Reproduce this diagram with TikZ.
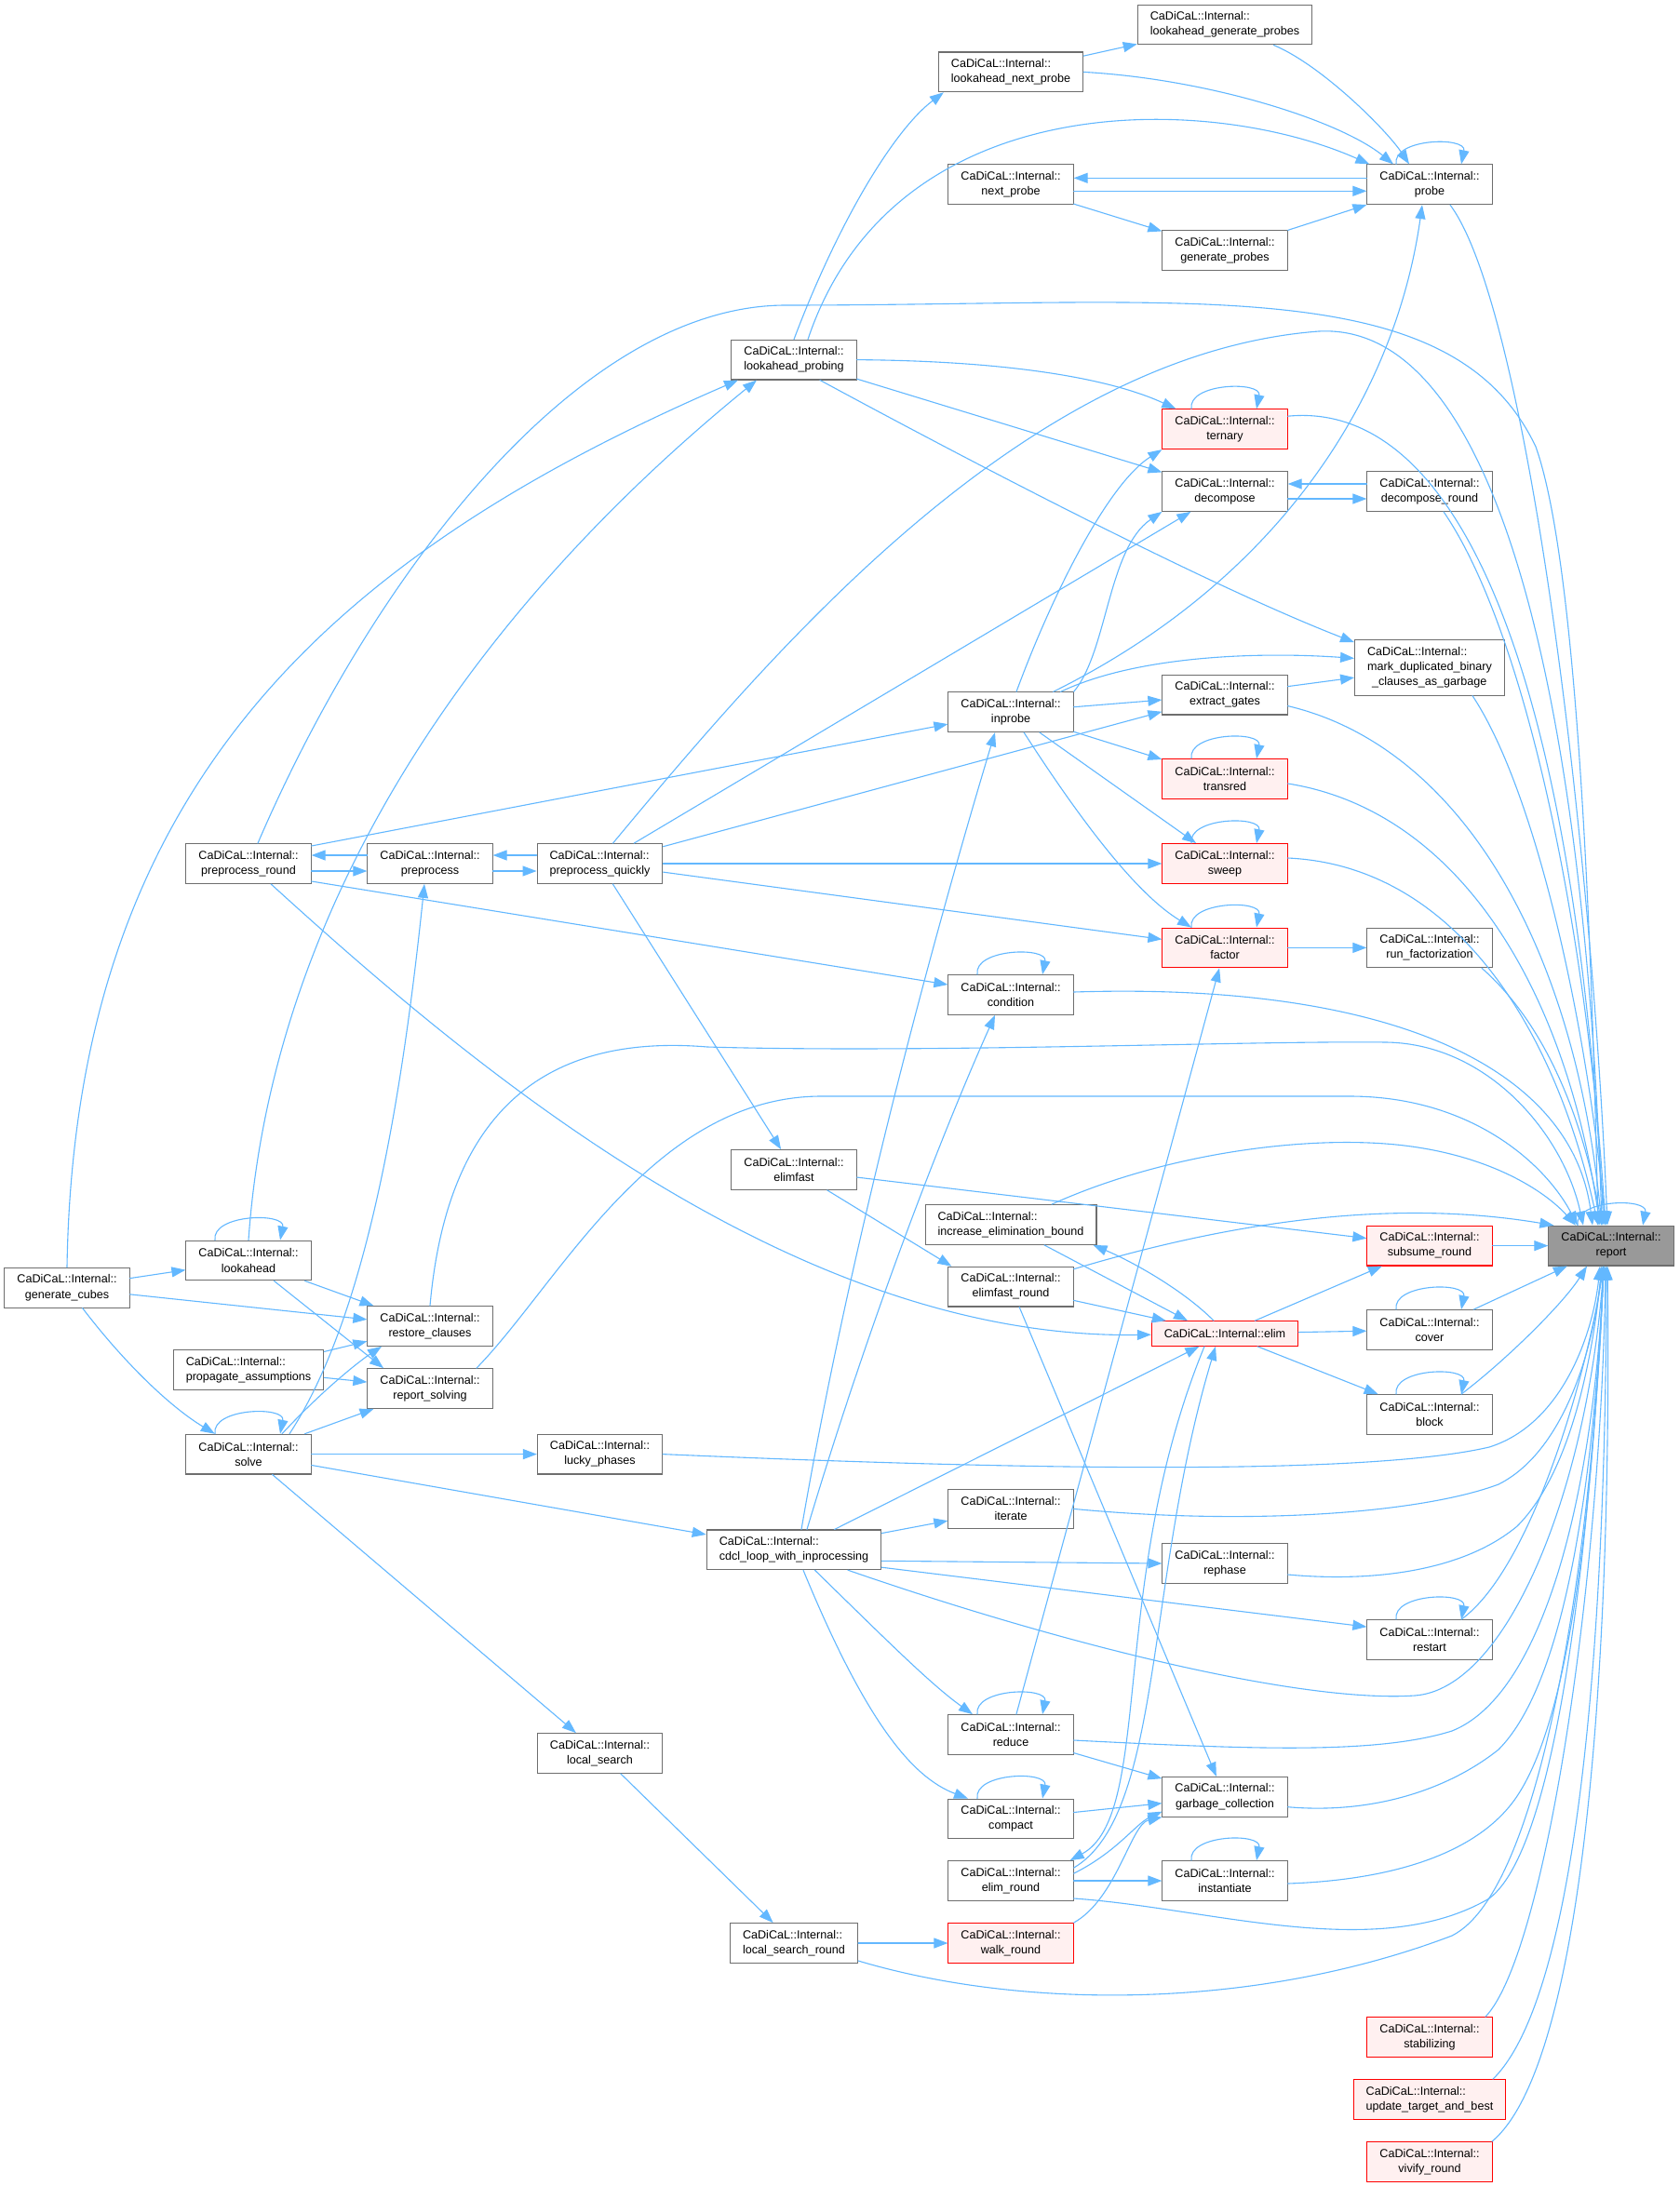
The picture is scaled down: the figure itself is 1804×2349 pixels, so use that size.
\documentclass[tikz,border=0pt]{standalone}
\usepackage{fontspec}
\setmainfont{Liberation Sans}
\usepackage{tikz}
\usetikzlibrary{arrows.meta}
\usepackage{xcolor}
\definecolor{edgeblue}{HTML}{63B8FF}
\definecolor{boxgray}{HTML}{6E6E6E}
\definecolor{hotred}{HTML}{FF0000}
\definecolor{hotfill}{HTML}{FFF0F0}
\definecolor{rootgray}{HTML}{999999}
\newcommand{\selfloop}[1]{\draw[call] ([xshift=-36pt]#1.north) .. controls +(-4,-28) and +(6,-30) .. ([xshift=34pt]#1.north);}

\begin{document}
\begin{tikzpicture}[x=1pt,y=-1pt,line cap=round,
  fn/.style={draw=boxgray,fill=white,line width=1.1pt,inner xsep=13.5pt,inner ysep=3pt,minimum height=42.7pt,align=center,font=\fontsize{12.6}{16.1}\selectfont},
  hot/.style={fn,draw=hotred,fill=hotfill},
  root/.style={fn,fill=rootgray},
  call/.style={-{Triangle[length=15pt,width=11pt]},draw=edgeblue,fill=none,line width=1.1pt}]
\fill[white] (0,0) rectangle (1804,2349);
\useasboundingbox (0,0) rectangle (1804,2349);

\node[fn,align=left] (lgp) at (1316,26.6) {CaDiCaL::Internal::\\lookahead\_generate\_probes};
\node[fn,align=left] (lnp) at (1086,77.4) {CaDiCaL::Internal::\\lookahead\_next\_probe};
\node[fn] (probe) at (1536,198.3) {CaDiCaL::Internal::\\probe};
\node[fn] (nextp) at (1086,198.3) {CaDiCaL::Internal::\\next\_probe};
\node[fn] (genp) at (1316,269.2) {CaDiCaL::Internal::\\generate\_probes};
\node[fn] (lap) at (853,386.6) {CaDiCaL::Internal::\\lookahead\_probing};
\node[hot] (ternary) at (1316,461.2) {CaDiCaL::Internal::\\ternary};
\node[fn] (decomp) at (1316,528) {CaDiCaL::Internal::\\decompose};
\node[fn] (decompr) at (1536,528) {CaDiCaL::Internal::\\decompose\_round};
\node[fn,align=left,minimum height=59.3pt] (markdup) at (1536,717.4) {CaDiCaL::Internal::\\mark\_duplicated\_binary\\\hspace*{5pt}\_clauses\_as\_garbage};
\node[fn] (extract) at (1316,746.6) {CaDiCaL::Internal::\\extract\_gates};
\node[fn] (inprobe) at (1086,765.2) {CaDiCaL::Internal::\\inprobe};
\node[hot] (transred) at (1316,837) {CaDiCaL::Internal::\\transred};
\node[hot] (sweep) at (1316,928) {CaDiCaL::Internal::\\sweep};
\node[fn] (pround) at (267,928) {CaDiCaL::Internal::\\preprocess\_round};
\node[fn] (prep) at (462,928) {CaDiCaL::Internal::\\preprocess};
\node[fn,align=left] (pquick) at (644.5,928) {CaDiCaL::Internal::\\preprocess\_quickly};
\node[hot] (factor) at (1316,1018.4) {CaDiCaL::Internal::\\factor};
\node[fn] (runfact) at (1536,1018.4) {CaDiCaL::Internal::\\run\_factorization};
\node[fn] (cond) at (1086,1069) {CaDiCaL::Internal::\\condition};
\node[fn] (elimfast) at (853,1257) {CaDiCaL::Internal::\\elimfast};
\node[fn,align=left] (incbound) at (1086,1316) {CaDiCaL::Internal::\\increase\_elimination\_bound};
\node[hot] (subsume) at (1536,1338.6) {CaDiCaL::Internal::\\subsume\_round};
\node[root] (report) at (1731,1338.6) {CaDiCaL::Internal::\\report};
\node[fn] (efround) at (1086,1382.6) {CaDiCaL::Internal::\\elimfast\_round};
\node[hot,minimum height=26.6pt] (elim) at (1316,1433) {CaDiCaL::Internal::elim};
\node[fn] (cover) at (1536,1429) {CaDiCaL::Internal::\\cover};
\node[fn] (block) at (1536,1520) {CaDiCaL::Internal::\\block};
\node[fn] (lookahead) at (267,1354.5) {CaDiCaL::Internal::\\lookahead};
\node[fn] (gencubes) at (72,1383.7) {CaDiCaL::Internal::\\generate\_cubes};
\node[fn] (restore) at (462,1425) {CaDiCaL::Internal::\\restore\_clauses};
\node[fn,align=left] (propassume) at (267,1472) {CaDiCaL::Internal::\\propagate\_assumptions};
\node[fn] (repsolving) at (462,1492) {CaDiCaL::Internal::\\report\_solving};
\node[fn] (solve) at (267,1562.6) {CaDiCaL::Internal::\\solve};
\node[fn] (lucky) at (644.5,1562.6) {CaDiCaL::Internal::\\lucky\_phases};
\node[fn] (iterate) at (1086,1621.4) {CaDiCaL::Internal::\\iterate};
\node[fn,align=left] (cdcl) at (853,1665.3) {CaDiCaL::Internal::\\cdcl\_loop\_with\_inprocessing};
\node[fn] (rephase) at (1316,1680) {CaDiCaL::Internal::\\rephase};
\node[fn] (restart) at (1536,1762) {CaDiCaL::Internal::\\restart};
\node[fn] (reduce) at (1086,1864) {CaDiCaL::Internal::\\reduce};
\node[fn] (lsearch) at (644.5,1884) {CaDiCaL::Internal::\\local\_search};
\node[fn] (gc) at (1316,1930.7) {CaDiCaL::Internal::\\garbage\_collection};
\node[fn] (compact) at (1086,1954.5) {CaDiCaL::Internal::\\compact};
\node[fn] (elimround) at (1086,2021) {CaDiCaL::Internal::\\elim\_round};
\node[fn] (inst) at (1316,2021) {CaDiCaL::Internal::\\instantiate};
\node[fn,align=left] (lsround) at (853,2088) {CaDiCaL::Internal::\\local\_search\_round};
\node[hot] (walk) at (1086,2088) {CaDiCaL::Internal::\\walk\_round};
\node[hot] (stab) at (1536,2189) {CaDiCaL::Internal::\\stabilizing};
\node[hot,align=left] (update) at (1536,2256) {CaDiCaL::Internal::\\update\_target\_and\_best};
\node[hot] (vivify) at (1536,2323) {CaDiCaL::Internal::\\vivify\_round};

\draw[call] (lnp) -- (lgp);
\draw[call] (lap.north) .. controls (900,240) and (960,140) .. ([xshift=6pt]lnp.south west);
\draw[call] ([xshift=15pt]lap.north) .. controls (960,90) and (1300,100) .. ([xshift=3pt]probe.north west);
\draw[call] (lnp.east) .. controls (1300,85) and (1440,130) .. ([xshift=-39pt]probe.north);
\draw[call] (lgp) .. controls (1420,70) and (1490,140) .. ([xshift=-22pt]probe.north);
\draw[call] ([yshift=7pt]probe.west) -- ([yshift=7pt]nextp.east);
\draw[call] ([yshift=-7pt]nextp.east) -- ([yshift=-7pt]probe.west);
\draw[call] (nextp) -- (genp);
\draw[call] (genp) -- (probe);
\draw[call] ([xshift=-22pt]inprobe.north east) .. controls (1380,620) and (1500,420) .. ([xshift=-8pt]probe.south);
\draw[call] ([xshift=6pt]inprobe.north) .. controls (1130,640) and (1190,520) .. (ternary.south west);
\draw[call] (lap.east) .. controls (1100,388) and (1200,410) .. ([xshift=15pt]ternary.north west);
\draw[call] (lap) -- (decomp);
\draw[call] ([xshift=28pt]lap.south) .. controls (1050,500) and (1300,630) .. ([yshift=-3pt]markdup.north west);
\draw[call] (inprobe.north east) .. controls (1190,700) and (1190,590) .. (decomp.south west);
\draw[call] (pquick) -- (decomp);
\draw[call] ([yshift=8pt]decompr.west) -- ([yshift=8pt]decomp.east);
\draw[call] ([yshift=-8pt]decomp.east) -- ([yshift=-8pt]decompr.west);
\draw[call] ([xshift=-14pt]inprobe.north east) .. controls (1220,705) and (1350,700) .. ([yshift=10pt]markdup.west);
\draw[call] (extract) -- (markdup);
\draw[call] (inprobe) -- (extract);
\draw[call] (pquick) -- (extract);
\draw[call] (inprobe) -- (transred);
\draw[call] (inprobe) -- (sweep);
\draw[call] (pquick) -- (sweep);
\draw[call] (inprobe) .. controls (1160,880) and (1220,960) .. (factor);
\draw[call] (pquick) -- (factor);
\draw[call] (factor) -- (runfact);
\draw[call] (reduce) -- (factor);

\draw[call] ([yshift=-8pt]pround.east) -- ([yshift=-8pt]prep.west);
\draw[call] ([yshift=9pt]prep.west) -- ([yshift=9pt]pround.east);
\draw[call] ([yshift=-8pt]prep.east) -- ([yshift=-8pt]pquick.west);
\draw[call] ([yshift=9pt]pquick.west) -- ([yshift=9pt]prep.east);
\draw[call] ([yshift=19pt]pround.east) -- (inprobe);
\draw[call] ([yshift=-19pt]pround.east) -- (cond);
\draw[call] (pround) .. controls (500,1140) and (850,1440) .. (elim);
\draw[call] (pquick) -- (elimfast);
\draw[call] ([xshift=14pt]cdcl.north) .. controls (940,1400) and (1020,1200) .. ([xshift=-17pt]cond.south);
\draw[call] ([xshift=8pt]cdcl.north) .. controls (920,1300) and (1020,950) .. ([xshift=-17pt]inprobe.south);

\draw[call] (elimfast) -- ([xshift=4pt]efround.north west);
\draw[call] (elimfast) -- (subsume);
\draw[call] (efround) -- (elim);
\draw[call] (efround) -- (gc);
\draw[call] ([xshift=-12pt]elim.north) .. controls (1270,1385) and (1215,1355) .. ([xshift=-4pt]incbound.south east);
\draw[call] ([xshift=36pt]incbound.south) -- ([xshift=-40pt]elim.north);
\draw[call] (elim) -- (subsume);
\draw[call] (elim) -- (cover);
\draw[call] (elim) -- (block);
\draw[call] (cdcl) -- (elim);
\draw[call] (subsume) -- (report);
\draw[call] (cover) -- (report);

\draw[call] (gencubes.north) .. controls (80,850) and (350,600) .. ([xshift=-60pt]lap.south);
\draw[call] (lookahead.north) .. controls (290,1000) and (480,680) .. ([xshift=-40pt]lap.south);
\draw[call] (gencubes) -- (lookahead);
\draw[call] (gencubes) -- (restore);
\draw[call] (gencubes) .. controls (130,1460) and (180,1510) .. (solve);
\draw[call] (lookahead) -- (restore);
\draw[call] (lookahead) -- ([xshift=-50pt]repsolving.north);
\draw[call] (propassume) -- (restore);
\draw[call] (propassume) -- (repsolving);
\draw[call] ([xshift=36pt]solve.north) .. controls (350,1490) and (390,1460) .. ([xshift=-52pt]restore.south);
\draw[call] ([xshift=44pt]solve.north) .. controls (390,1420) and (430,1200) .. ([xshift=-6pt]prep.south);
\draw[call] (solve) -- (repsolving);
\draw[call] (solve) -- (lucky);
\draw[call] (solve) -- (cdcl);
\draw[call] (solve) -- (lsearch);
\draw[call] (lsearch) -- (lsround);
\draw[call] (lsround) -- (walk);

\draw[call] (cdcl) -- (iterate);
\draw[call] ([yshift=-12pt]cdcl.east) -- (rephase.west);
\draw[call] ([yshift=3pt]cdcl.south east) -- ([yshift=-8pt]restart.north west);
\draw[call] (cdcl) .. controls (950,1760) and (1000,1810) .. ([xshift=-41pt]reduce.north);
\draw[call] ([xshift=10pt]cdcl.south) .. controls (930,1850) and (980,1910) .. ([xshift=-46pt]compact.north);
\draw[call] (reduce) -- (gc);
\draw[call] (compact) -- (gc);
\draw[call] (elimround) -- (inst);
\draw[call] ([xshift=-22pt]elim.south) .. controls (1190,1700) and (1240,1950) .. ([xshift=-4pt]elimround.north east);
\draw[call] ([yshift=-8pt]elimround.north east) .. controls (1250,1950) and (1230,1700) .. ([xshift=-10pt]elim.south);
\draw[call] ([yshift=-14pt]elimround.north east) .. controls (1200,1990) and (1220,1960) .. ([yshift=6pt]gc.south west);
\draw[call] (walk.north east) .. controls (1200,2040) and (1215,1960) .. (gc.south west);

\draw[call] ([xshift=22pt]probe.south) .. controls (1640,330) and (1710,900) .. ([xshift=-4pt]report.north);
\draw[call] ([xshift=10pt]pround.north) .. controls (400,620) and (620,330) .. (842,328) .. controls (1280,328) and (1560,290) .. (1650,480) .. controls (1700,620) and (1712,1100) .. ([xshift=-14pt]report.north);
\draw[call] ([xshift=14pt]pquick.north) .. controls (830,700) and (1100,380) .. (1417,356) .. controls (1620,345) and (1705,800) .. ([xshift=-10pt]report.north);
\draw[call] ([yshift=14pt]ternary.east) .. controls (1560,430) and (1690,700) .. ([xshift=-8pt]report.north);
\draw[call] ([xshift=15pt]decompr.south) .. controls (1640,680) and (1705,1000) .. ([xshift=-6pt]report.north);
\draw[call] ([xshift=46pt]markdup.south) .. controls (1650,850) and (1705,1100) .. ([xshift=-6pt]report.north);
\draw[call] ([yshift=-12pt]extract.east) .. controls (1560,800) and (1690,1000) .. ([xshift=-10pt]report.north);
\draw[call] ([yshift=-5pt]transred.east) .. controls (1560,870) and (1680,1050) .. ([xshift=-12pt]report.north);
\draw[call] ([yshift=6pt]sweep.east) .. controls (1560,930) and (1670,1100) .. ([xshift=-14pt]report.north);
\draw[call] ([xshift=56pt]runfact.south) .. controls (1660,1100) and (1700,1200) .. ([xshift=-10pt]report.north);
\draw[call] ([yshift=3pt]cond.east) .. controls (1500,1055) and (1690,1150) .. ([xshift=-20pt]report.north);
\draw[call] (restore.north) .. controls (480,1200) and (580,1110) .. (760,1125) .. controls (1000,1132) and (1350,1118) .. (1490,1120) .. controls (1600,1122) and (1680,1220) .. ([xshift=-30pt]report.north);
\draw[call] ([xshift=50pt]repsolving.north) .. controls (600,1380) and (700,1180) .. (880,1178) -- (1450,1178) .. controls (1580,1178) and (1660,1250) .. ([xshift=-36pt]report.north);
\draw[call] ([xshift=44pt]incbound.north) .. controls (1250,1240) and (1400,1220) .. (1500,1230) .. controls (1600,1240) and (1660,1280) .. ([xshift=-38pt]report.north);
\draw[call] ([yshift=-3pt]efround.north east) .. controls (1300,1320) and (1480,1285) .. ([xshift=6pt]report.north west);
\draw[call] ([xshift=34pt]block.north) .. controls (1620,1460) and (1680,1400) .. ([xshift=-26pt]report.south);
\draw[call] (lucky.east) .. controls (1000,1575) and (1450,1590) .. (1600,1555) .. controls (1680,1530) and (1712,1430) .. ([xshift=-12pt]report.south);
\draw[call] (iterate.east) .. controls (1350,1640) and (1530,1625) .. (1610,1595) .. controls (1680,1560) and (1712,1450) .. ([xshift=-10pt]report.south);
\draw[call] ([yshift=-12pt]rephase.east) .. controls (1470,1700) and (1570,1690) .. (1630,1640) .. controls (1690,1580) and (1712,1450) .. ([xshift=-10pt]report.south);
\draw[call] ([xshift=34pt]restart.north) .. controls (1640,1690) and (1700,1500) .. ([xshift=-8pt]report.south);
\draw[call] ([xshift=58pt]cdcl.south) .. controls (1150,1770) and (1400,1830) .. (1520,1822) .. controls (1620,1815) and (1705,1600) .. ([xshift=-8pt]report.south);
\draw[call] ([yshift=-6pt]reduce.east) .. controls (1350,1880) and (1480,1885) .. (1560,1860) .. controls (1660,1820) and (1712,1600) .. ([xshift=-8pt]report.south);
\draw[call] ([yshift=-11pt]gc.east) .. controls (1480,1950) and (1560,1920) .. (1610,1880) .. controls (1680,1810) and (1712,1600) .. ([xshift=-8pt]report.south);
\draw[call] ([yshift=-3pt]inst.east) .. controls (1500,2020) and (1590,1990) .. (1630,1930) .. controls (1690,1840) and (1712,1600) .. ([xshift=-8pt]report.south);
\draw[call] ([yshift=-19pt]elimround.east) .. controls (1300,2050) and (1480,2110) .. (1600,2040) .. controls (1680,1980) and (1712,1600) .. ([xshift=-8pt]report.south);
\draw[call] ([yshift=-19pt]lsround.east) .. controls (1100,2160) and (1350,2160) .. (1560,2080) .. controls (1660,2030) and (1712,1650) .. ([xshift=-8pt]report.south);
\draw[call] ([xshift=60pt]stab.north) .. controls (1660,2100) and (1720,1700) .. ([xshift=-6pt]report.south);
\draw[call] ([xshift=68pt]update.north) .. controls (1690,2150) and (1725,1800) .. ([xshift=-5pt]report.south);
\draw[call] ([xshift=67pt]vivify.north) .. controls (1700,2220) and (1732,1800) .. ([xshift=-4pt]report.south);

\selfloop{probe}
\selfloop{ternary}
\selfloop{transred}
\selfloop{sweep}
\selfloop{factor}
\selfloop{cond}
\selfloop{lookahead}
\selfloop{solve}
\selfloop{cover}
\selfloop{block}
\selfloop{restart}
\selfloop{reduce}
\selfloop{compact}
\selfloop{inst}
\selfloop{report}
\end{tikzpicture}
\end{document}
